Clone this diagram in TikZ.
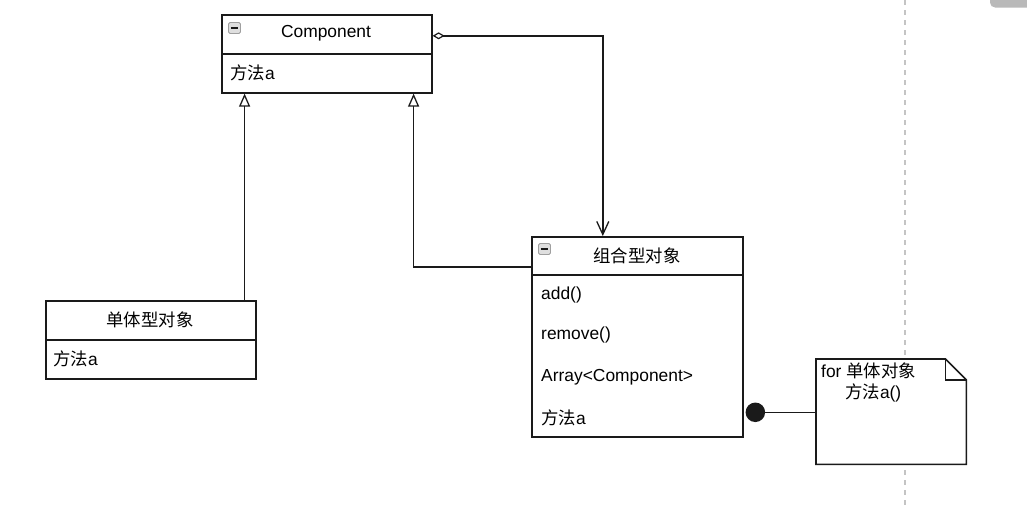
\documentclass[tikz,border=0pt]{standalone}
\usepackage{fontspec}
\setmainfont{Liberation Sans}
\newfontfamily\cjk{Noto Sans CJK SC}
\usetikzlibrary{arrows.meta,calc}
\definecolor{lineC}{HTML}{1A1A1A}
\definecolor{dashC}{HTML}{C4C4C4}
\begin{document}
\begin{tikzpicture}[x=1pt,y=-1pt,
  every node/.style={font=\fontsize{17.4}{21}\selectfont, inner sep=0pt, text=black},
  comp/.style={draw=lineC, line width=1.6pt, rectangle, anchor=north west, fill=white},
  item/.style={anchor=west},
  conn/.style={draw=lineC, line width=1.6pt},
  inh/.style={conn, -{Triangle[open, length=13pt, width=11pt, line width=1.3pt]}},
  icon/.style={draw=gray!75, fill=gray!25, rounded corners=1.5pt, minimum width=12pt, minimum height=11pt, line width=0.9pt, anchor=north west}
]
\useasboundingbox (0,0) rectangle (1027,509);
% background decorations
\draw[dashC, line width=1.3pt, dash pattern=on 5pt off 5pt] (905,0) -- (905,509);
\begin{scope}
\clip (0,0) rectangle (1027,509);
\fill[gray!55, rounded corners=5pt] (990,-10) rectangle (1040,7.5);
\end{scope}

% Component
\node[comp, minimum width=210pt, minimum height=39pt] (comptitle) at (221,14) {};
\node[comp, minimum width=210pt, minimum height=39pt] (compbody) at (221,53) {};
\node at (326,33.5) (comptext) {Component};
\node[item] at (230,72.5) (compm) {{\cjk 方法}a};
\node[icon] at (228,22) (icon1) {};
\draw[gray!20!black, line width=1.3pt] ($(icon1.center)+(-3.5,0)$) -- ($(icon1.center)+(3.5,0)$);

% Singleton
\node[comp, minimum width=210pt, minimum height=39pt] (stitle) at (45,300) {};
\node[comp, minimum width=210pt, minimum height=39pt] (sbody) at (45,339) {};
\node at (150,320) (stext) {\cjk 单体型对象};
\node[item] at (53,358.5) (sm) {{\cjk 方法}a};

% Composite
\node[comp, minimum width=211pt, minimum height=38pt] (ctitle) at (531,236) {};
\node[comp, minimum width=211pt, minimum height=162pt] (cbody) at (531,274) {};
\node at (637,256) (ctext) {\cjk 组合型对象};
\node[icon] at (538,243) (icon2) {};
\draw[gray!20!black, line width=1.3pt] ($(icon2.center)+(-3.5,0)$) -- ($(icon2.center)+(3.5,0)$);
\node[item] at (541,295) (m1) {add()};
\node[item] at (541,335) (m2) {remove()};
\node[item] at (541,377) (m3) {Array<Component>};
\node[item] at (541,418) (m4) {{\cjk 方法}a};

% Note
\node[minimum width=150pt, minimum height=105pt, anchor=north west] (note) at (816,359) {};
\draw[lineC, line width=1.6pt, fill=white]
  (note.north west) -- ([xshift=-21pt]note.north east) -- ([yshift=-21pt]note.north east)
  -- (note.south east) -- (note.south west) -- cycle;
\draw[lineC, line width=1.3pt]
  ([xshift=-21pt]note.north east) -- ([xshift=-21pt,yshift=-21pt]note.north east) -- ([yshift=-21pt]note.north east);
\node[anchor=west] at (821,371) (n1) {for {\cjk 单体对象}};
\node[anchor=west] at (845,392.5) (n2) {{\cjk 方法}a()};

% Connectors
\coordinate (s1) at ([xshift=-12pt]stitle.north east);
\draw[inh] (s1) -- (s1 |- compbody.south);
\coordinate (c1) at ([yshift=-11pt]ctitle.west);
\coordinate (c2) at ([xshift=-19pt]compbody.south east);
\draw[inh] (c1) -| (c2);
\coordinate (a1) at ([yshift=-1.5pt]comptitle.east);
\coordinate (a2) at ([xshift=-34.5pt]ctitle.north);
\draw[conn, {Diamond[open, length=12pt, width=7pt, line width=1.2pt]}-{Straight Barb[length=13pt, width=12pt, line width=1.3pt]}] (a1) -| (a2);
\coordinate (d1) at ([xshift=2pt,yshift=-56.5pt]cbody.east);
\draw[conn, {Circle[length=19.5pt]}-] (d1) -- (d1 -| note.west);
\end{tikzpicture}
\end{document}
